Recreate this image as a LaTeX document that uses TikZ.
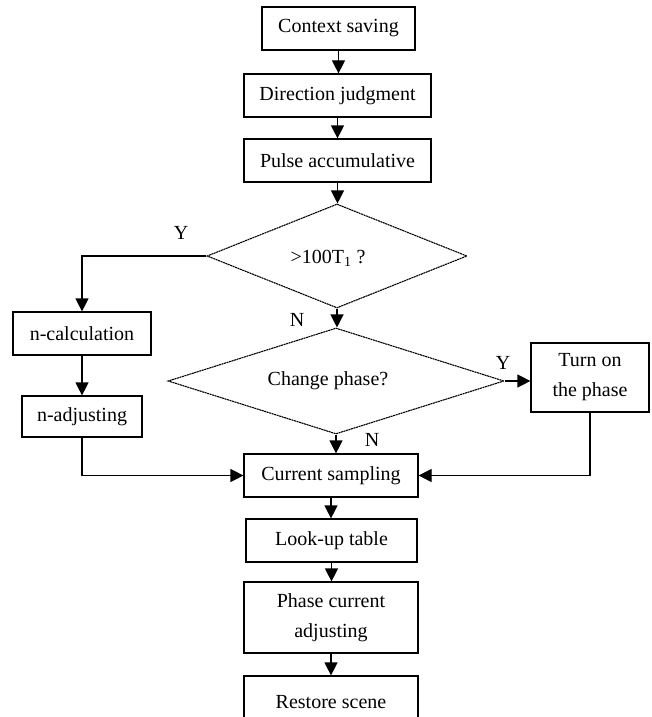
\documentclass[tikz,border=0pt]{standalone}
\usepackage{fontspec}
\setmainfont{Liberation Serif}
\usetikzlibrary{shapes.geometric,arrows.meta}
\begin{document}
\begin{tikzpicture}[x=1pt,y=1pt,
  every node/.style={font=\fontsize{20}{30}\selectfont},
  box/.style={draw,line width=1.2pt,inner sep=0pt,align=center},
  dia/.style={draw,diamond,line width=1.1pt,inner sep=0pt,dashed,dash pattern=on 2pt off 0.6pt},
  arr/.style={line width=1.2pt,-{Triangle[width=13pt,length=13pt]}},
  lab/.style={inner sep=0pt}]
\useasboundingbox (0,0) rectangle (652,-717);
\clip (0,0) rectangle (652,-717);
\node[box,minimum width=153pt,minimum height=43pt] (cs) at (338.5,-28.5) {Context saving};
\node[box,minimum width=187pt,minimum height=43pt] (dj) at (337.5,-95.5) {Direction judgment};
\node[box,minimum width=187pt,minimum height=43pt] (pa) at (337.5,-160.5) {Pulse accumulative};
\node[dia,minimum width=260pt,minimum height=104pt] (d1) at (337,-256) {};
\node at (328,-258) {>100T\textsubscript{1} ?};
\node[box,minimum width=138pt,minimum height=43pt] (nc) at (82,-333.5) {n-calculation};
\node[dia,minimum width=336pt,minimum height=106pt] (d2) at (336,-381) {};
\node at (328,-381) {Change phase?};
\node[box,minimum width=118pt,minimum height=69pt] (ton) at (590,-377.5) {Turn on\\the phase};
\node[box,minimum width=120pt,minimum height=41pt] (na) at (82,-416.5) {n-adjusting};
\node[box,minimum width=174pt,minimum height=43pt] (cur) at (331,-475.5) {Current sampling};
\node[box,minimum width=171pt,minimum height=43pt] (lut) at (331.5,-540.5) {Look-up table};
\node[box,minimum width=174pt,minimum height=71pt] (pca) at (331,-617.5) {Phase current\\adjusting};
\node[box,minimum width=174pt,minimum height=52pt] (rs) at (331,-702) {Restore scene};
\node[lab] (y1) at (181,-233) {Y};
\node[lab] (n1) at (297,-320) {N};
\node[lab] (y2) at (503,-363) {Y};
\node[lab] (n2) at (372,-440) {N};
\draw[arr] (cs.south) -- (cs.south |- dj.north);
\draw[arr] (dj.south) -- (dj.south |- pa.north);
\draw[arr] (pa.south) -- (pa.south |- d1.north);
\draw[arr] (d1.south) -- (d1.south |- d2.north);
\draw[arr] (d1.west) -| (nc.north);
\draw[arr] (nc.south) -- (nc.south |- na.north);
\draw[arr] (d2.east) -- (d2.east -| ton.west);
\draw[arr] (d2.south) -- (d2.south |- cur.north);
\draw[arr] (na.south) |- (cur.west);
\draw[arr] (ton.south) |- (cur.east);
\draw[arr] (cur.south) -- (cur.south |- lut.north);
\draw[arr] (lut.south) -- (lut.south |- pca.north);
\draw[arr] (pca.south) -- (pca.south |- rs.north);
\end{tikzpicture}
\end{document}
